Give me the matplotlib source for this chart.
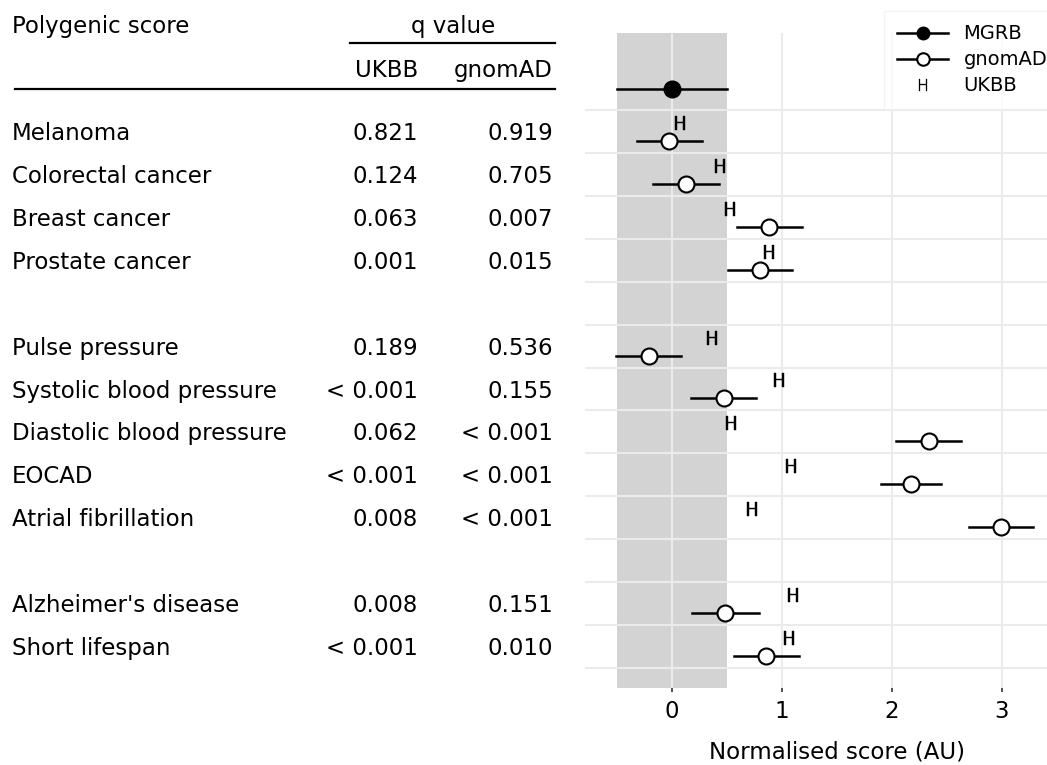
import matplotlib
matplotlib.use('Agg')
import matplotlib.pyplot as plt
import matplotlib.transforms as mtransforms
from matplotlib.lines import Line2D
import numpy as np

# data
categories = ['Melanoma', 'Colorectal cancer', 'Breast cancer', 'Prostate cancer',
              'Pulse pressure', 'Systolic blood pressure', 'Diastolic blood pressure',
              'EOCAD', 'Atrial fibrillation',
              "Alzheimer's disease", 'Short lifespan']
groups = [0, 0, 0, 0, 1, 1, 1, 1, 1, 2, 2]

q_ukbb = ['0.821', '0.124', '0.063', '0.001', '0.189', '< 0.001', '0.062',
          '< 0.001', '0.008', '0.008', '< 0.001']
q_gnomad = ['0.919', '0.705', '0.007', '0.015', '0.536', '0.155', '< 0.001',
            '< 0.001', '< 0.001', '0.151', '0.010']

gnomad_mean = [-0.03, 0.13, 0.88, 0.80, -0.21, 0.47, 2.34, 2.17, 2.99, 0.48, 0.855]
gnomad_lo = [-0.315, -0.17, 0.59, 0.51, -0.51, 0.17, 2.04, 1.90, 2.70, 0.18, 0.56]
gnomad_hi = [0.275, 0.43, 1.18, 1.09, 0.08, 0.76, 2.63, 2.45, 3.285, 0.79, 1.155]
ukbb_mean = [0.07, 0.44, 0.53, 0.885, 0.36, 0.975, 0.54, 1.08, 0.73, 1.10, 1.06]

mgrb_mean = 0.0
mgrb_lo = -0.5
mgrb_hi = 0.5

FS = 16.5
W, H = 1047, 765

fig = plt.figure(figsize=(W / 100, H / 100), dpi=100)
fig.patch.set_facecolor('white')

# plot panel (right edge runs past the cropped image, as in the reference)
ax = fig.add_axes([585 / W, 1 - 688 / H, (1089 - 585) / W, (688 - 33) / H])
ax.set_xlim(-0.791, 3.791)
ax.set_ylim(12.966, -2.295)

rows = np.arange(len(categories)) + np.array(groups)
y_gnomad = rows + 0.22
y_ukbb = rows - 0.20
y_mgrb = -1

# grey band = MGRB interval
ax.axvspan(mgrb_lo, mgrb_hi, color='#d3d3d3', zorder=0.1, lw=0)

ax.set_axisbelow(True)
ax.set_yticks(np.arange(-0.5, 13, 1))
ax.set_xticks([0, 1, 2, 3])
ax.grid(True, color='#ebebeb', lw=1.5)
for s in ax.spines.values():
    s.set_visible(False)
ax.tick_params(axis='y', left=False, labelleft=False)
ax.tick_params(axis='x', length=2.9, width=1.2, color='#333333', pad=6,
               labelsize=FS, labelcolor='black')

# MGRB
ax.plot([mgrb_lo, mgrb_hi], [y_mgrb, y_mgrb], color='black', lw=1.8, zorder=2)
ax.plot([mgrb_mean], [y_mgrb], 'o', ms=12, color='black', zorder=3)

# gnomAD
for lo, hi, y in zip(gnomad_lo, gnomad_hi, y_gnomad):
    ax.plot([lo, hi], [y, y], color='black', lw=1.8, zorder=2)
ax.plot(gnomad_mean, y_gnomad, 'o', ms=11.5, mfc='white', mec='black', mew=1.5,
        ls='none', zorder=3)

# UKBB
ax.plot(ukbb_mean, y_ukbb, ls='none', marker=r'$\mathsf{H}$', ms=10, mew=0.3,
        color='black', zorder=3)

ax.set_xlabel('Normalised score (AU)', fontsize=FS, labelpad=12)

# legend
handles = [
    Line2D([], [], color='black', lw=1.8, marker='o', ms=9, mfc='black'),
    Line2D([], [], color='black', lw=1.8, marker='o', ms=9, mfc='white', mew=1.5),
    Line2D([], [], ls='none', marker=r'$\mathsf{H}$', ms=8.5, mew=0.2, color='black'),
]
leg = fig.legend(handles, ['MGRB', 'gnomAD', 'UKBB'], loc='upper left',
                 bbox_to_anchor=(874 / W, 1 - 1 / H), fontsize=14,
                 handlelength=2.6, handletextpad=0.8, labelspacing=0.36,
                 borderpad=0.7, fancybox=False, frameon=True)
leg.get_frame().set_edgecolor('#f0f0f0')
leg.get_frame().set_linewidth(1)

# table on the left, rows share the panel's y scale
trans = mtransforms.blended_transform_factory(fig.transFigure, ax.transData)
for i, name in enumerate(categories):
    yb = rows[i] + 0.198
    fig.text(12 / W, yb, name, transform=trans, fontsize=FS, va='baseline', ha='left')
    fig.text(418 / W, yb, q_ukbb[i], transform=trans, fontsize=FS, va='baseline', ha='right')
    fig.text(553 / W, yb, q_gnomad[i], transform=trans, fontsize=FS, va='baseline', ha='right')

fig.text(12 / W, 1 - 33 / H, 'Polygenic score', fontsize=FS, va='baseline', ha='left')
fig.text(453 / W, 1 - 33 / H, 'q value', fontsize=FS, va='baseline', ha='center')
fig.text(418 / W, 1 - 77 / H, 'UKBB', fontsize=FS, va='baseline', ha='right')
fig.text(553 / W, 1 - 77 / H, 'gnomAD', fontsize=FS, va='baseline', ha='right')

fig.add_artist(Line2D([350 / W, 555 / W], [1 - 43 / H, 1 - 43 / H],
                      color='black', lw=1.6, transform=fig.transFigure))
fig.add_artist(Line2D([15 / W, 555 / W], [1 - 89 / H, 1 - 89 / H],
                      color='black', lw=1.6, transform=fig.transFigure))

fig.savefig('out.png', dpi=100)
plt.close(fig)
